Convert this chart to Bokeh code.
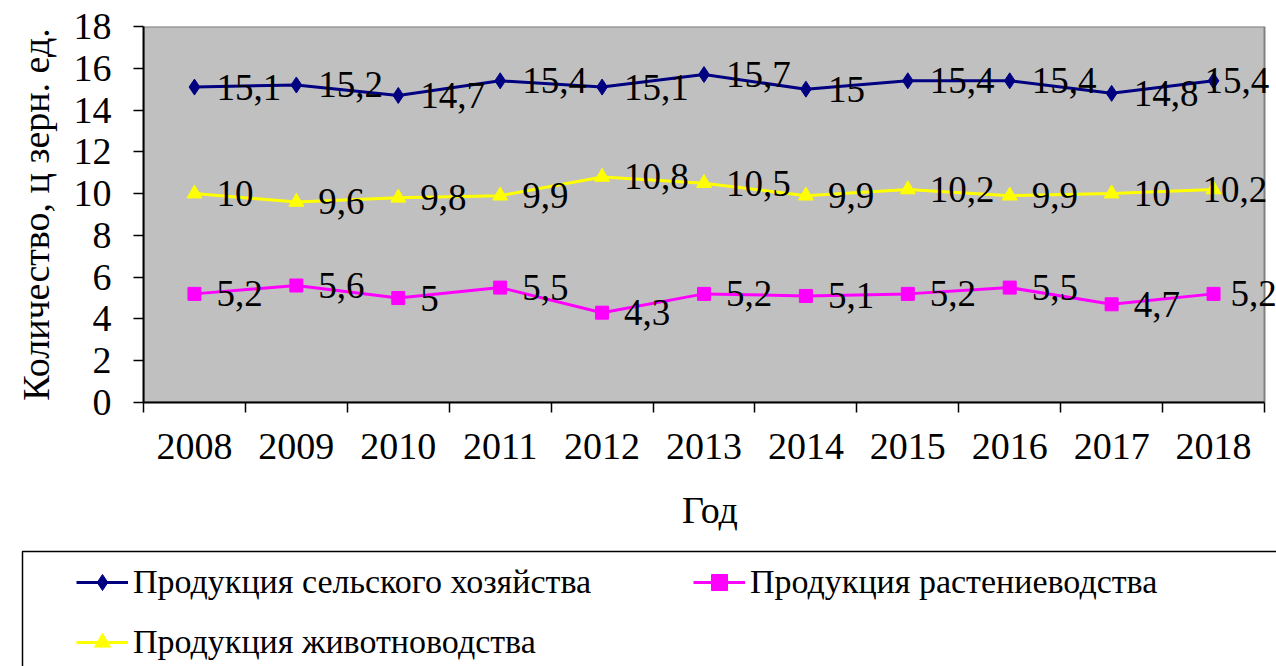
from bokeh.plotting import figure
from bokeh.layouts import column
from bokeh.models import Range1d, FixedTicker, Legend, LegendItem, BoxAnnotation
from bokeh.core.properties import value
from bokeh.embed import file_html
from bokeh.resources import INLINE

years = ["2008", "2009", "2010", "2011", "2012", "2013", "2014", "2015", "2016", "2017", "2018"]
agri = [15.1, 15.2, 14.7, 15.4, 15.1, 15.7, 15.0, 15.4, 15.4, 14.8, 15.4]
plant = [5.2, 5.6, 5.0, 5.5, 4.3, 5.2, 5.1, 5.2, 5.5, 4.7, 5.2]
animal = [10.0, 9.6, 9.8, 9.9, 10.8, 10.5, 9.9, 10.2, 9.9, 10.0, 10.2]
y_ticks = [0, 2, 4, 6, 8, 10, 12, 14, 16, 18]
y_max = 18

series_names = ["Продукция сельского хозяйства", "Продукция растениеводства", "Продукция животноводства"]

FONT = "Liberation Serif"
W, H_TOP, H_LEG = 1276, 540, 126
LEFT, AREA_RIGHT = 143, 1264   # plot area edges (px)

n = len(years)
xs = [i + 0.5 for i in range(n)]
x_end = n * (W - LEFT) / (AREA_RIGHT - LEFT)   # frame runs to the canvas edge so labels may overhang

p = figure(width=W, height=H_TOP, output_backend="svg", toolbar_location=None,
           x_range=Range1d(0, x_end), y_range=Range1d(0, y_max),
           min_border_left=LEFT, min_border_right=0, min_border_top=26, min_border_bottom=138,
           background_fill_color="white", border_fill_color="white")
p.frame_align = False
p.outline_line_color = None
p.grid.visible = False

# grey plot area
area = BoxAnnotation(left=0, right=n, bottom=0, top=y_max, fill_color="#C0C0C0", fill_alpha=1,
                     line_color="#808080", line_alpha=1, line_width=2, level="underlay")
p.add_layout(area)

# axes
p.xaxis.bounds = (0, n)
p.xaxis.ticker = FixedTicker(ticks=xs, minor_ticks=list(range(n + 1)))
p.xaxis.major_label_overrides = {x: y for x, y in zip(xs, years)}
p.xaxis.major_tick_out = 0
p.xaxis.major_tick_in = 0
p.xaxis.minor_tick_out = 10
p.xaxis.minor_tick_in = 0
p.xaxis.major_label_standoff = 21
p.xaxis.axis_label = "Год"
p.xaxis.axis_label_standoff = 27

p.yaxis.ticker = FixedTicker(ticks=y_ticks)
p.yaxis.major_tick_out = 10
p.yaxis.major_tick_in = 0
p.yaxis.major_label_standoff = 22
p.yaxis.axis_label = "Количество, ц зерн. ед."
p.yaxis.axis_label_standoff = 14

for ax in (p.xaxis, p.yaxis):
    ax.axis_line_color = "black"
    ax.axis_line_width = 2
    ax.major_tick_line_color = "black"
    ax.minor_tick_line_color = "black"
    ax.major_tick_line_width = 1.5
    ax.minor_tick_line_width = 1.5
    ax.major_label_text_font = FONT
    ax.major_label_text_font_size = "38px"
    ax.major_label_text_color = "black"
    ax.axis_label_text_font = FONT
    ax.axis_label_text_font_size = "38px"
    ax.axis_label_text_font_style = "normal"
    ax.axis_label_text_color = "black"
p.yaxis.minor_tick_line_color = None

# (values, colour, marker, marker size, x offset of the last label)
styles = [
    (agri, "#000080", "diamond", 16, -9),
    (plant, "#FF00FF", "square", 13, 17),
    (animal, "#FFFF00", "triangle", 15, -11),
]

for vals, color, marker, size, _ in styles:
    p.line(xs, vals, line_color=color, line_width=3)
    p.scatter(xs, vals, marker=marker, size=size, fill_color=color, line_color=color)

for vals, _, _, _, last_off in styles:
    labels = [f"{v:g}".replace(".", ",") for v in vals]
    offsets = [22] * (n - 1) + [last_off]
    p.text(x=xs, y=vals, text=labels, x_offset=offsets, text_baseline="middle", text_align="left",
           text_font=value(FONT), text_font_size="37px", text_color="black")

# legend panel (its frame covers the whole canvas, so the box is cut at the window edge)
q = figure(width=W, height=H_LEG, output_backend="svg", toolbar_location=None,
           x_range=Range1d(0, W), y_range=Range1d(H_LEG, 0),
           x_axis_type=None, y_axis_type=None,
           min_border_left=0, min_border_right=0, min_border_top=0, min_border_bottom=0,
           background_fill_color="white", border_fill_color="white")
q.frame_align = False
q.outline_line_color = None
q.grid.visible = False

box = BoxAnnotation(left=22, right=W + 200, top=11, bottom=H_LEG + 200,
                    fill_alpha=0, line_color="black", line_alpha=1, line_width=1.5)
q.add_layout(box)

items = []
for (vals, color, marker, size, _), name in zip(styles, series_names):
    lr = q.line(xs, vals, line_color=color, line_width=3, visible=False)
    sr = q.scatter(xs, vals, marker=marker, size=size, fill_color=color, line_color=color, visible=False)
    items.append(LegendItem(label=name, renderers=[lr, sr]))

legend = Legend(items=items, location=(76, 4), orientation="horizontal", ncols=2,
                glyph_width=52, glyph_height=40, label_height=40, label_width=540,
                label_standoff=5, spacing=20, padding=0, margin=0,
                border_line_alpha=0, background_fill_alpha=0,
                label_text_font=FONT, label_text_font_size="34px", label_text_color="black")
q.add_layout(legend)

layout = column(p, q, spacing=0)
open("out.html", "w").write(file_html(layout, INLINE))
